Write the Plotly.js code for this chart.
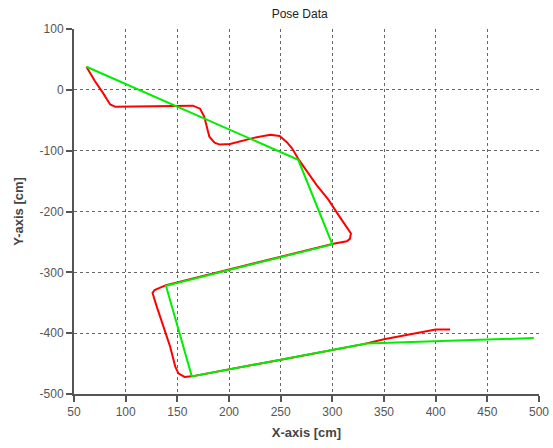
<!DOCTYPE html>
<html>
<head>
<meta charset="utf-8">
<script src="https://cdn.plot.ly/plotly-3.0.1.min.js"></script>
<style>html,body{margin:0;padding:0;background:#fff;}#chart{width:553px;height:448px;}</style>
</head>
<body>
<div id="chart"></div>
<script>
// Green: planned / commanded path
const greenX = [62, 267, 300, 139, 164, 249, 333, 495];
const greenY = [38, -115, -254, -322, -471, -444, -417, -408];

// Red: measured pose path
const redX = [62, 70, 78, 85, 90, 140, 165, 172, 176, 181, 186, 191, 201, 224, 240, 249, 256, 261, 268, 285, 296, 306, 315, 318, 317, 314, 301, 139, 128, 126, 130, 138, 143, 148, 151, 157, 164, 249, 330, 350, 379, 400, 414];
const redY = [38, 15, -5, -24, -28, -27, -26, -31, -44, -77, -87, -90, -89, -79, -74, -76, -86, -96, -116, -157, -180, -206, -227, -236, -245, -249, -253, -321, -329, -334, -356, -397, -422, -455, -466, -472, -471, -444, -418, -410, -400, -394, -394];

const xTicks = [50, 100, 150, 200, 250, 300, 350, 400, 450, 500];
const yTicks = [100, 0, -100, -200, -300, -400, -500];

const data = [
  {x: redX, y: redY, type: 'scatter', mode: 'lines', line: {color: '#ff0000', width: 2}, hoverinfo: 'skip'},
  {x: greenX, y: greenY, type: 'scatter', mode: 'lines', line: {color: '#00ee00', width: 2}, hoverinfo: 'skip'}
];

const axisCommon = {
  showgrid: true,
  gridcolor: '#666',
  griddash: '3px,3px',
  gridwidth: 1,
  zeroline: false,
  showline: true,
  linecolor: '#555',
  linewidth: 2,
  ticks: 'outside',
  ticklen: 6,
  tickwidth: 2,
  tickcolor: '#555',
  tickfont: {family: 'Liberation Sans, Arial, sans-serif', size: 12, color: '#555'},
  mirror: false
};

const layout = {
  width: 553,
  height: 448,
  margin: {l: 74, r: 14, t: 29, b: 54},
  paper_bgcolor: '#fff',
  plot_bgcolor: '#fff',
  showlegend: false,
  title: {text: 'Pose Data', x: 0.542, xanchor: 'center', y: 0.978, yanchor: 'top',
          font: {family: 'Liberation Sans, Arial, sans-serif', size: 12, color: '#222'}},
  xaxis: Object.assign({}, axisCommon, {
    range: [50, 500],
    tickvals: xTicks,
    ticktext: xTicks.map(String),
    title: {text: '<b>X-axis [cm]</b>', standoff: 9,
            font: {family: 'Liberation Sans, Arial, sans-serif', size: 13, color: '#444'}}
  }),
  yaxis: Object.assign({}, axisCommon, {
    range: [-500, 100],
    tickvals: yTicks,
    ticktext: yTicks.map(String),
    title: {text: '<b>Y-axis [cm]</b>', standoff: 13,
            font: {family: 'Liberation Sans, Arial, sans-serif', size: 13, color: '#444'}}
  })
};

Plotly.newPlot('chart', data, layout, {displayModeBar: false, staticPlot: true});
</script>
</body>
</html>
